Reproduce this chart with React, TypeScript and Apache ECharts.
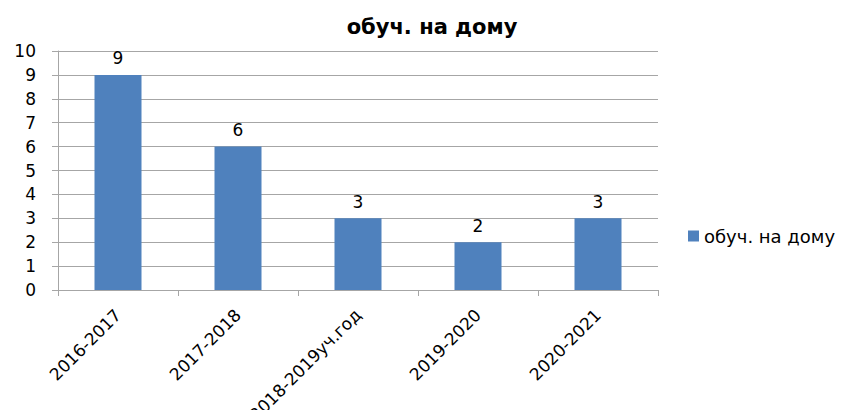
import React, { useEffect, useRef } from "react";
import * as echarts from "echarts";

const title = "обуч. на дому";
const categories = ["2016-2017", "2017-2018", "2018-2019уч.год", "2019-2020", "2020-2021"];
const values = [9, 6, 3, 2, 3];
const seriesName = "обуч. на дому";

export default function App() {
  const ref = useRef<HTMLDivElement>(null);
  useEffect(() => {
    const chart = echarts.init(ref.current!, null, { renderer: "svg" });
    const font = "'DejaVu Sans', sans-serif";
    chart.setOption({
      animation: false,
      title: {
        text: title,
        left: 427,
        textAlign: "center",
        top: 11,
        textStyle: { fontFamily: font, fontSize: 21, fontWeight: "bold", color: "#000" },
      },
      legend: {
        data: [seriesName],
        left: 683,
        top: 222,
        orient: "vertical",
        itemWidth: 11,
        itemHeight: 11,
        icon: "rect",
        itemGap: 6,
        textStyle: { fontFamily: font, fontSize: 18, color: "#000" },
      },
      grid: { left: 58, right: 187, top: 51, bottom: 120, containLabel: false, outerBoundsMode: "none" },
      xAxis: {
        type: "category",
        data: categories,
        axisLine: { lineStyle: { color: "#a6a6a6" } },
        axisTick: { show: true, alignWithLabel: false, length: 6, lineStyle: { color: "#a6a6a6" } },
        axisLabel: {
          rotate: 45,
          fontFamily: font,
          fontSize: 17,
          color: "#000",
          margin: 22,
          interval: 0,
        },
      },
      yAxis: {
        type: "value",
        min: 0,
        max: 10,
        interval: 1,
        axisLine: { show: true, lineStyle: { color: "#a6a6a6" } },
        axisTick: { show: true, length: 6, lineStyle: { color: "#a6a6a6" } },
        axisLabel: { fontFamily: font, fontSize: 17, color: "#000", margin: 22 },
        splitLine: { lineStyle: { color: "#a6a6a6" } },
      },
      series: [
        {
          name: seriesName,
          type: "bar",
          data: values,
          barWidth: 47,
          itemStyle: { color: "#4f81bd" },
          label: { show: true, position: "top", fontFamily: font, fontSize: 17, color: "#000", distance: 8 },
        },
      ],
    });
    return () => chart.dispose();
  }, []);
  return <div ref={ref} style={{ width: 845, height: 410, position: "absolute", left: 0, top: 0 }} />;
}
